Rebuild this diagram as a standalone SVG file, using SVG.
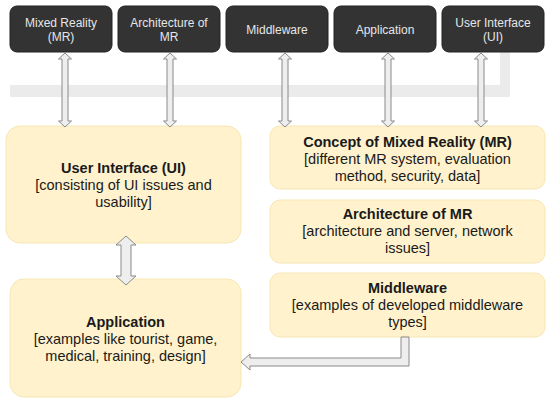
<svg xmlns="http://www.w3.org/2000/svg" width="550" height="403" viewBox="0 0 550 403">
<style>
.dark{fill:#333333;stroke:#222;stroke-width:1}
.dt{font-family:"Liberation Sans",Arial,sans-serif;font-size:12px;fill:#e6e6e6;text-anchor:middle}
.yel{fill:#fff2cc;stroke:#f7e6b5;stroke-width:1}
.t{font-family:"Liberation Sans",Arial,sans-serif;font-size:14.5px;fill:#1a1a1a;text-anchor:middle}
.b{font-weight:bold}
.arr{fill:#eeeeee;stroke:#8a8a8a;stroke-width:1;stroke-linejoin:miter}
.band{fill:#ebebeb}
</style>
<rect width="550" height="403" fill="#ffffff"/>
<g id="band">
<path class="band" d="M10,85 H500 V52 H510 V97 H10 Z"/>
</g>
<g id="n-mr"><rect class="dark" x="10" y="6" width="102" height="46" rx="7"/><text class="dt" x="61" y="27">Mixed Reality</text><text class="dt" x="61" y="41">(MR)</text></g>
<g id="n-arch"><rect class="dark" x="118" y="6" width="102" height="46" rx="7"/><text class="dt" x="169" y="27">Architecture of</text><text class="dt" x="169" y="41">MR</text></g>
<g id="n-mid"><rect class="dark" x="226" y="6" width="102" height="46" rx="7"/><text class="dt" x="277" y="34">Middleware</text></g>
<g id="n-app"><rect class="dark" x="334" y="6" width="102" height="46" rx="7"/><text class="dt" x="385" y="34">Application</text></g>
<g id="n-ui"><rect class="dark" x="442" y="6" width="102" height="46" rx="7"/><text class="dt" x="493" y="27">User Interface</text><text class="dt" x="493" y="41">(UI)</text></g>

<g id="b-ui"><rect class="yel" x="6" y="126" width="235" height="117" rx="14"/><text class="t b" x="123.5" y="173">User Interface (UI)</text><text class="t" x="123.5" y="190">[consisting of UI issues and</text><text class="t" x="123.5" y="207">usability]</text></g>
<g id="b-concept"><rect class="yel" x="270" y="126" width="275" height="63" rx="10"/><text class="t b" x="407.5" y="147">Concept of Mixed Reality (MR)</text><text class="t" x="407.5" y="164">[different MR system, evaluation</text><text class="t" x="407.5" y="181">method, security, data]</text></g>
<g id="b-arch"><rect class="yel" x="270" y="200" width="275" height="63" rx="10"/><text class="t b" x="407.5" y="219">Architecture of MR</text><text class="t" x="407.5" y="236">[architecture and server, network</text><text class="t" x="407.5" y="253">issues]</text></g>
<g id="b-mid"><rect class="yel" x="270" y="273" width="275" height="64" rx="10"/><text class="t b" x="407.5" y="293">Middleware</text><text class="t" x="407.5" y="310">[examples of developed middleware</text><text class="t" x="407.5" y="327">types]</text></g>
<g id="b-app"><rect class="yel" x="10" y="279" width="231" height="118" rx="14"/><text class="t b" x="125.5" y="327">Application</text><text class="t" x="125.5" y="344">[examples like tourist, game,</text><text class="t" x="125.5" y="361">medical, training, design]</text></g>

<g id="connectors">
<path class="arr" d="M65,53 L71.5,59 L68,59 L68,121 L71.5,121 L65,127 L58.5,121 L62,121 L62,59 L58.5,59 Z"/>
<path class="arr" d="M170,53 L176.5,59 L173,59 L173,121 L176.5,121 L170,127 L163.5,121 L167,121 L167,59 L163.5,59 Z"/>
<path class="arr" d="M285,53 L291.5,59 L288,59 L288,121 L291.5,121 L285,127 L278.5,121 L282,121 L282,59 L278.5,59 Z"/>
<path class="arr" d="M388,53 L394.5,59 L391,59 L391,121 L394.5,121 L388,127 L381.5,121 L385,121 L385,59 L381.5,59 Z"/>
<path class="arr" d="M481,53 L487.5,59 L484,59 L484,121 L487.5,121 L481,127 L474.5,121 L478,121 L478,59 L474.5,59 Z"/>
<path class="arr" d="M126,236 L136,245 L131,245 L131,276 L136,276 L126,285 L116,276 L121,276 L121,245 L116,245 Z"/>
<path class="arr" d="M401,337 L401,358 L250,358 L250,354 L241,362 L250,370 L250,366 L409,366 L409,337 Z"/>
</g>
</svg>
